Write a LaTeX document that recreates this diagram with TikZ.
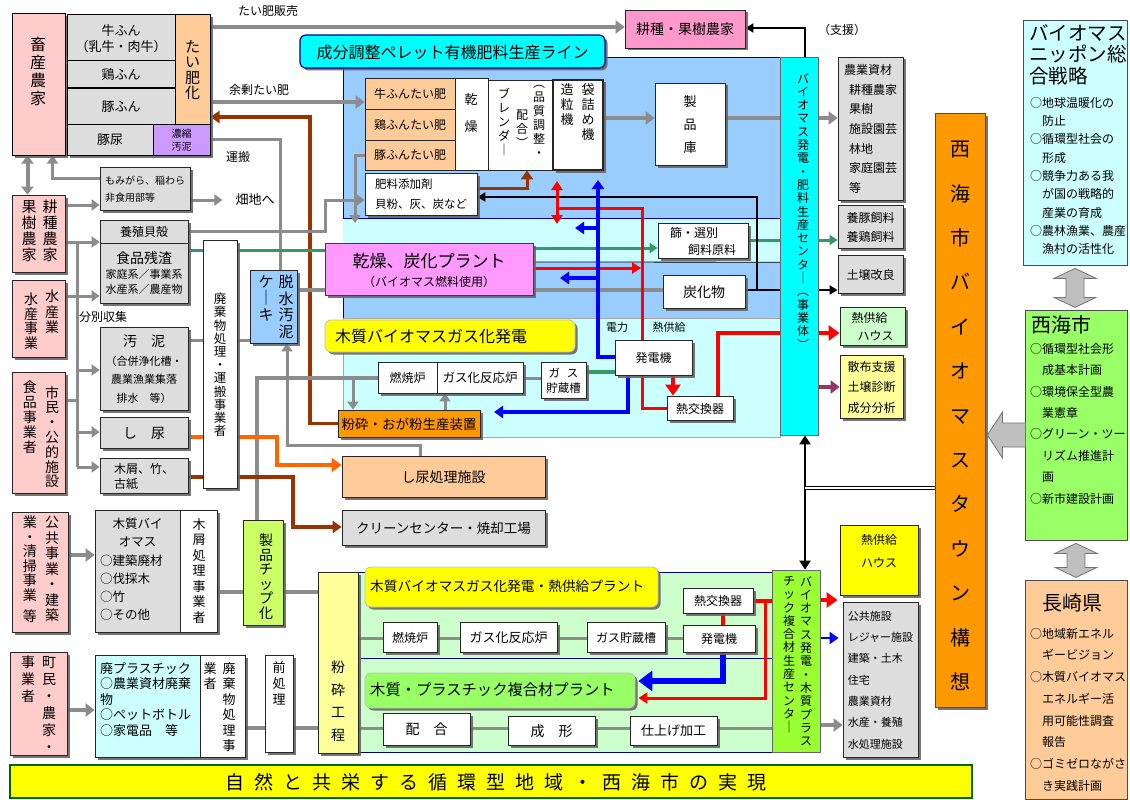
\documentclass[tikz,border=0pt]{standalone}
\usepackage{fontspec}
\setmainfont{Noto Sans CJK JP}
\usetikzlibrary{arrows.meta,fit,shadows}
\definecolor{pinkL}{HTML}{FFCCCC}
\definecolor{grayL}{HTML}{DDDDDD}
\definecolor{orangeL}{HTML}{FFCC99}
\definecolor{purpleL}{HTML}{CC99FF}
\definecolor{pinkM}{HTML}{FF99CC}
\definecolor{cyanT}{HTML}{00FFFF}
\definecolor{blueP}{HTML}{99CCFF}
\definecolor{cyanL}{HTML}{CCFFFF}
\definecolor{magP}{HTML}{FF99FF}
\definecolor{yellowT}{HTML}{FFFF00}
\definecolor{orangeD}{HTML}{FF9900}
\definecolor{greenL}{HTML}{CCFFCC}
\definecolor{yellowL}{HTML}{FFFF99}
\definecolor{greenC}{HTML}{99FF33}
\definecolor{greenM}{HTML}{99FF66}
\definecolor{chipG}{HTML}{CCFF66}
\definecolor{lineG}{HTML}{8C8C8C}
\definecolor{brownA}{HTML}{993300}
\definecolor{orangeA}{HTML}{FF6600}
\definecolor{greenA}{HTML}{339966}
\definecolor{purpleA}{HTML}{993366}
\definecolor{redA}{HTML}{FF0000}
\definecolor{blueA}{HTML}{0000FF}
\newcommand\fs[2]{\fontsize{#1}{#2}\selectfont}
% box: style, name, x1, y1, x2, y2, text options, text
\newcommand\Bx[8]{\node[#1,fit={(#3,#4) (#5,#6)}] (#2) {};
  \node[tx,#7] (#2-t) at (#2.center) {#8};}
\newcommand\Sg{\hspace{10pt}}
\pgfdeclarelayer{bg}
\pgfdeclarelayer{lines}
\pgfsetlayers{bg,lines,main}
\tikzset{
  bx/.style={draw=black!85,line width=0.8pt,inner sep=0pt},
  tx/.style={inner sep=0pt,align=center,text depth=0pt},
  shd/.style={drop shadow={shadow xshift=2.5pt,shadow yshift=-2.5pt,fill=black!60,opacity=0.9}},
  gbox/.style={bx,fill=grayL,shd},
  wbox/.style={bx,fill=white},
  wsbox/.style={bx,fill=white,shd},
  pbox/.style={bx,fill=pinkL,shd},
  vt/.style={inner sep=0pt,align=center,anchor=north},
  lt/.style={inner sep=0pt,align=left,anchor=north west},
  lbl/.style={inner sep=1pt,font=\fs{12}{14}},
  gl/.style={draw=lineG,line width=4pt},
  gt/.style={draw=lineG,line width=3pt},
  ga/.style={gl,-{Triangle[length=9pt,width=13pt]}},
  gta/.style={gt,-{Triangle[length=8pt,width=11pt]}},
  grl/.style={draw=greenA,line width=3pt},
  gra/.style={grl,-{Triangle[length=8pt,width=10pt]}},
  brl/.style={draw=brownA,line width=3.5pt},
  bra/.style={brl,-{Triangle[length=9pt,width=12pt]}},
  ora/.style={draw=orangeA,line width=4pt,-{Triangle[length=10pt,width=14pt]}},
  rdl/.style={draw=redA,line width=3pt},
  rda/.style={rdl,-{Triangle[length=9pt,width=11pt]}},
  rdA/.style={draw=redA,line width=4.5pt,-{Triangle[length=11pt,width=15pt]}},
  bll/.style={draw=blueA,line width=3.5pt},
  bla/.style={bll,-{Triangle[length=9pt,width=12pt]}},
  blA/.style={draw=blueA,line width=6pt,-{Triangle[length=14pt,width=20pt]}},
  bkl/.style={draw=black,line width=2.5pt},
  bka/.style={bkl,-{Triangle[length=8pt,width=9pt]}},
  pua/.style={draw=purpleA,line width=4pt,-{Triangle[length=9pt,width=13pt]}},
  hollow/.style={fill=black!25,draw=black!55,line width=0.8pt},
}
\begin{document}
\begin{tikzpicture}[x=1pt,y=-1pt,every node/.style={font=\fs{12}{14}}]
\useasboundingbox (0,0) rectangle (1130,800);

% ---------- panels
\begin{pgfonlayer}{bg}
\fill[white] (0,0) rectangle (1130,800);
\node[fill=blueP,draw=blue!60!black,line width=0.6pt,inner sep=0pt,fit={(343,57) (780,318)}] (pnlPellet) {};
\node[fill=cyanL,inner sep=0pt,fit={(343,219) (780,262)}] (pnlDry) {};
\draw[blue!70!black,line width=0.8pt] (pnlDry.north west) -- (pnlDry.north east);
\draw[black,line width=0.8pt] (533,262) -- (pnlDry.south east);
\node[fill=cyanL,draw=black!35,line width=0.6pt,inner sep=0pt,fit={(343,318) (780,437)}] (pnlGas) {};
\node[fill=greenL,draw=blue!50!black,line width=0.6pt,inner sep=0pt,fit={(358,572) (772,658)}] (pnlGas2) {};
\node[fill=greenL,draw=blue!50!black,line width=0.6pt,inner sep=0pt,fit={(358,658) (772,752)}] (pnlComp) {};
\end{pgfonlayer}

% ---------- left top group
\Bx{pbox,draw=black,line width=1pt}{chikusan}{12}{14}{65}{155}{}{}
\node[vt,font=\fs{16}{18}] (chikusanT) at (38,37) {畜\\産\\農\\家};
\Bx{gbox,draw=black,line width=1pt}{gyu}{67}{15}{175}{61}{font=\fs{13}{16.5}}{牛ふん\\（乳牛・肉牛）}
\Bx{gbox,draw=black,line width=1pt}{tori}{67}{61}{175}{88}{font=\fs{13}{16}}{鶏ふん}
\Bx{gbox,draw=black,line width=1pt}{buta}{67}{88}{175}{124}{font=\fs{13}{16}}{豚ふん}
\Bx{bx,draw=black,line width=1pt,fill=orangeL,shd}{taihika}{175}{15}{210}{124}{font=\fs{15}{15.5}}{た\\い\\肥\\化}
\Bx{gbox,draw=black,line width=1pt}{butanyo}{67}{124}{153}{155}{font=\fs{13}{16}}{豚尿}
\Bx{bx,draw=black,line width=1pt,fill=purpleL,shd}{noushuku}{153}{124}{210}{155}{font=\fs{10}{13}}{濃縮\\汚泥}

\Bx{bx,fill=pinkM,shd}{kouse}{625}{10}{745}{48}{font=\fs{14}{16}}{耕種・果樹農家}

\Bx{gbox}{momi}{100}{167}{190}{210}{font=\fs{10}{17},align=left}{もみがら、稲わら\\非食用部等}

\Bx{pbox}{kouju}{12}{195}{65}{272}{}{}
\node[vt,font=\fs{15}{16}] (koujuR) at (50,200) {耕\\種\\農\\家};
\node[vt,font=\fs{15}{16}] (koujuL) at (29,200) {果\\樹\\農\\家};

\Bx{pbox}{suisan}{12}{280}{65}{357}{}{}
\node[vt,font=\fs{14}{15.5}] (suisanR) at (52,290) {水\\産\\業};
\node[vt,font=\fs{14}{14.5}] (suisanL) at (31,293) {水\\産\\事\\業};

\Bx{pbox}{shimin}{12}{372}{65}{493}{}{}
\node[vt,font=\fs{14}{14.8}] (shiminR) at (52,386) {市\\民\\・\\公\\的\\施\\設};
\node[vt,font=\fs{14}{15}] (shiminL) at (30,381) {食\\品\\事\\業\\者};

\Bx{gbox}{yoshoku}{100}{220}{188}{243}{font=\fs{12}{14}}{養殖貝殻}
\Bx{gbox}{shokuhin}{100}{243}{188}{303}{font=\fs{11}{15}}{{\fs{14}{17}食品残渣}\\家庭系／事業系\\水産系／農産物}
\Bx{gbox}{odei}{100}{327}{188}{410}{font=\fs{11}{18.5}}{{\fs{14}{17}汚　泥}\\（合併浄化槽・\\農業漁業集落\\排水　等）}
\Bx{gbox}{shinyo}{100}{417}{188}{448}{font=\fs{14}{16}}{し　尿}
\Bx{gbox}{mokuzu}{100}{458}{188}{493}{font=\fs{12}{15},align=left}{木屑、竹、\\古紙}

\Bx{wsbox}{haiki1}{203}{240}{237}{488}{}{}
\node[vt,font=\fs{12.5}{13.2}] (haiki1T) at (220,293) {廃\\棄\\物\\処\\理\\・\\運\\搬\\事\\業\\者};

\Bx{bx,fill=blueP,shd}{dassui}{250}{270}{297}{343}{}{}
\node[vt,font=\fs{15}{16.5}] (dassuiR) at (286,275) {脱\\水\\汚\\泥};
\node[vt,font=\fs{15}{16.5}] (dassuiL) at (266,275) {ケ\\｜\\キ};

\node[lbl] (lblHanbai) at (268,11) {たい肥販売};
\node[lbl] (lblYojo) at (259,90) {余剰たい肥};
\node[lbl] (lblUnpan) at (238,157) {運搬};
\node[lbl,font=\fs{13}{15}] (lblHatake) at (255,200) {畑地へ};
\node[lbl] (lblBunbetsu) at (103,317) {分別収集};

% ---------- pellet line
\Bx{bx,fill=cyanT,rounded corners=6pt,draw=blue!60!black,line width=1.2pt,shd}{title1}{300}{35}{605}{68}{font=\fs{16}{18}}{成分調整ペレット有機肥料生産ライン}
\Bx{bx,fill=orangeL}{gyut}{365}{78}{455}{109}{font=\fs{12}{14}}{牛ふんたい肥}
\Bx{bx,fill=orangeL}{torit}{365}{109}{455}{140}{font=\fs{12}{14}}{鶏ふんたい肥}
\Bx{bx,fill=orangeL}{butat}{365}{140}{455}{170}{font=\fs{12}{14}}{豚ふんたい肥}
\Bx{wbox}{kansou}{455}{78}{488}{170}{}{}
\node[vt,font=\fs{13}{27}] (kansouT) at (471,93) {乾\\燥};
\Bx{wbox}{blender}{488}{80}{553}{170}{}{}
\node[vt,font=\fs{12}{14}] (blenderR) at (539,85) {︵\\品\\質\\調\\整\\・};
\node[vt,font=\fs{12}{14}] (blenderM) at (522,110) {配\\合\\︶};
\node[vt,font=\fs{12}{14}] (blenderL) at (504,88) {ブ\\レ\\ン\\ダ\\｜};
\Bx{wbox,line width=1.6pt,shd}{zouryu}{553}{80}{603}{170}{}{}
\node[vt,font=\fs{13}{15}] (zouryuR) at (588,83) {袋\\詰\\め\\機};
\node[vt,font=\fs{13}{15}] (zouryuL) at (567,83) {造\\粒\\機};
\Bx{wsbox}{seihin}{655}{83}{725}{165}{font=\fs{13}{23}}{製\\品\\庫}
\Bx{wsbox}{hiryou}{365}{173}{477}{215}{font=\fs{11.5}{20},align=left}{肥料添加剤\\貝粉、灰、炭など}

\Bx{bx,fill=magP,draw=red!80!black,line width=1pt,shd}{plant}{325}{243}{533}{295}{}{}
\node[font=\fs{17}{20},inner sep=0pt] (plantT1) at (429,261) {乾燥、炭化プラント};
\node[font=\fs{12}{14},inner sep=0pt] (plantT2) at (429,282) {（バイオマス燃料使用）};
\Bx{wsbox}{furui}{658}{223}{748}{258}{font=\fs{12}{17},align=left}{篩・選別\\\hspace*{1.5em}飼料原料}
\Bx{wsbox}{tanka}{663}{275}{745}{308}{font=\fs{14}{16}}{炭化物}

% ---------- gasification
\Bx{bx,fill=yellowT,rounded corners=6pt,draw=black!25,shd}{title2}{325}{320}{575}{352}{}{}
\node[anchor=west,inner sep=0pt,font=\fs{16}{18}] (title2T) at (335,336) {木質バイオマスガス化発電};
\Bx{bx,fill=orangeD,shd}{funsai}{338}{410}{480}{437}{font=\fs{13.5}{16}}{粉砕・おが粉生産装置}
\Bx{wsbox}{nenshou}{378}{362}{437}{393}{font=\fs{12}{14}}{燃焼炉}
\Bx{wsbox}{gaska}{437}{362}{523}{393}{font=\fs{12.5}{14}}{ガス化反応炉}
\Bx{wsbox}{gasch}{541}{362}{586}{398}{font=\fs{11.5}{15}}{ガ\hspace{0.6em}ス\\貯蔵槽}
\Bx{wsbox}{hatsuden}{615}{340}{692}{375}{font=\fs{12}{14}}{発電機}
\Bx{wsbox}{netsu}{667}{396}{733}{420}{font=\fs{12}{14}}{熱交換器}
\node[lbl,font=\fs{11}{13}] (lblDenryoku) at (617,327) {電力};
\node[lbl,font=\fs{11}{13}] (lblNetsu) at (669,327) {熱供給};

% ---------- center column 1
\Bx{bx,fill=cyanT,draw=black!60}{center1}{780}{57}{818}{435}{}{}
\node[vt,font=\fs{12}{13.3}] (center1T) at (803,73) {バ\\イ\\オ\\マ\\ス\\発\\電\\・\\肥\\料\\生\\産\\セ\\ン\\タ\\｜\\︵\\事\\業\\体\\︶};
\node[lbl] (lblShien) at (842,30) {（支援）};

% ---------- right outputs
\Bx{gbox}{noug}{838}{57}{903}{200}{font=\fs{12}{19.7},align=left}{農業資材\\\hspace*{5pt}耕種農家\\\hspace*{5pt}果樹\\\hspace*{5pt}施設園芸\\\hspace*{5pt}林地\\\hspace*{5pt}家庭園芸\\\hspace*{5pt}等}
\Bx{gbox}{shiryo}{838}{205}{903}{248}{font=\fs{12}{19}}{養豚飼料\\養鶏飼料}
\Bx{gbox}{dojou}{838}{255}{903}{293}{font=\fs{12}{14}}{土壌改良}
\Bx{bx,fill=greenL,shd}{netsuH1}{840}{307}{905}{345}{font=\fs{12}{18},align=left}{熱供給\\\hspace*{0.5em}ハウス}
\Bx{bx,fill=yellowL,shd}{sanpu}{840}{355}{903}{418}{font=\fs{12}{20.5}}{散布支援\\土壌診断\\成分分析}

\Bx{bx,fill=orangeD,shd,draw=black!70}{saikai}{935}{113}{985}{707}{}{}
\node[vt,font=\fs{20}{44.4}] (saikaiT) at (960,141) {西\\海\\市\\バ\\イ\\オ\\マ\\ス\\タ\\ウ\\ン\\構\\想};

\Bx{bx,fill=yellowT,shd}{netsuH2}{840}{525}{918}{595}{}{}
\node[vt,font=\fs{12}{23}] (netsuH2T) at (879,534) {熱供給\\ハウス};
\Bx{bx,fill=greenC,draw=black!60}{center2}{772}{570}{820}{752}{}{}
\node[vt,font=\fs{12}{13.3}] (center2R) at (806,576) {バ\\イ\\オ\\マ\\ス\\発\\電\\・\\木\\質\\プ\\ラ\\ス};
\node[vt,font=\fs{12}{13.3}] (center2L) at (789,576) {チ\\ッ\\ク\\複\\合\\材\\生\\産\\セ\\ン\\タ\\｜};
\Bx{gbox}{kokyo}{843}{602}{918}{757}{font=\fs{11}{21.3},align=left}{公共施設\\レジャー施設\\建築・土木\\住宅\\農業資材\\水産・養殖\\水処理施設}

% ---------- far right
\Bx{bx,fill=cyanL,draw=black!70}{nippon}{1023}{20}{1127}{265}{}{}
\node[lt,font=\fs{19.5}{21.5}] (nipponT) at (1029,24) {バイオマス\\ニッポン総\\合戦略};
\node[lt,font=\fs{12}{18.3}] (nipponL) at (1030,97) {○地球温暖化の\\\hspace*{1em}防止\\○循環型社会の\\\hspace*{1em}形成\\○競争力ある我\\\hspace*{1em}が国の戦略的\\\hspace*{1em}産業の育成\\○農林漁業、農産\\\hspace*{1em}漁村の活性化};

\Bx{bx,fill=greenM,draw=black!70}{saikaishi}{1025}{310}{1127}{540}{}{}
\node[lt,font=\fs{20}{22}] (saikaishiT) at (1031,315) {西海市};
\node[lt,font=\fs{12}{21.4}] (saikaishiL) at (1030,343) {○循環型社会形\\\hspace*{1em}成基本計画\\○環境保全型農\\\hspace*{1em}業憲章\\○グリーン・ツー\\\hspace*{1em}リズム推進計\\\hspace*{1em}画\\○新市建設計画};

\Bx{bx,fill=orangeL,draw=black!70}{nagasaki}{1025}{580}{1127}{799}{}{}
\node[lt,font=\fs{20}{22}] (nagasakiT) at (1042,594) {長崎県};
\node[lt,font=\fs{12}{21.7}] (nagasakiL) at (1030,628) {○地域新エネル\\\hspace*{1em}ギービジョン\\○木質バイオマス\\\hspace*{1em}エネルギー活\\\hspace*{1em}用可能性調査\\\hspace*{1em}報告\\○ゴミゼロながさ\\\hspace*{1em}き実践計画};

% ---------- lower left
\Bx{bx,fill=orangeL,shd}{shinyoS}{342}{456}{545}{497}{font=\fs{14}{16}}{し尿処理施設}
\Bx{gbox}{clean}{342}{510}{545}{545}{font=\fs{13.5}{16}}{クリーンセンター・焼却工場}

\Bx{pbox}{kokyoJ}{12}{512}{68}{632}{}{}
\node[vt,font=\fs{14}{15.5}] (kokyoJR) at (52,516) {公\\共\\事\\業\\・\\建\\築};
\node[vt,font=\fs{14}{14.5}] (kokyoJL) at (30,516) {業\\・\\清\\掃\\事\\業\\[7pt]等};
\Bx{gbox}{mokushitsu}{95}{510}{180}{632}{}{}
\node[lt,font=\fs{12.5}{18.2}] (mokushitsuT) at (100,518) {\hspace*{1em}木質バイ\\\hspace*{1.5em}オマス\\○建築廃材\\○伐採木\\○竹\\○その他};
\Bx{wsbox}{mokuzuS}{180}{510}{217}{632}{}{}
\node[vt,font=\fs{13}{15.5}] (mokuzuST) at (199,518) {木\\屑\\処\\理\\事\\業\\者};
\Bx{bx,fill=chipG,shd}{chip}{243}{520}{283}{625}{}{}
\node[vt,font=\fs{14}{14.5}] (chipT) at (266,534) {製\\品\\チ\\ッ\\プ\\化};
\Bx{bx,fill=yellowL,shd}{funsaiK}{318}{572}{358}{753}{}{}
\node[vt,font=\fs{14}{22.5}] (funsaiKT) at (338,661) {粉\\砕\\工\\程};

\Bx{bx,fill=yellowT,rounded corners=6pt,draw=black!25,shd}{title3}{365}{567}{658}{607}{}{}
\node[anchor=west,inner sep=0pt,font=\fs{13.7}{16}] (title3T) at (370,586) {木質バイオマスガス化発電・熱供給プラント};
\Bx{wsbox}{nen2}{383}{622}{437}{652}{font=\fs{12}{14}}{燃焼炉}
\Bx{wsbox}{gas2}{460}{622}{557}{652}{font=\fs{13}{14}}{ガス化反応炉}
\Bx{wsbox}{choz2}{587}{622}{665}{652}{font=\fs{12}{14}}{ガス貯蔵槽}
\Bx{wsbox}{netsu2}{683}{588}{753}{613}{font=\fs{12}{14}}{熱交換器}
\Bx{wsbox}{hatsu2}{683}{625}{755}{652}{font=\fs{12}{14}}{発電機}
\Bx{bx,fill=greenM,rounded corners=6pt,draw=black!25,shd}{title4}{365}{673}{635}{708}{}{}
\node[anchor=west,inner sep=0pt,font=\fs{15.3}{17}] (title4T) at (370,690) {木質・プラスチック複合材プラント};
\Bx{wsbox}{haigo}{383}{713}{470}{745}{font=\fs{14}{16}}{配　合}
\Bx{wsbox}{seikei}{508}{716}{595}{745}{font=\fs{14}{16}}{成　形}
\Bx{wsbox}{shiage}{630}{716}{717}{745}{font=\fs{13}{16}}{仕上げ加工}

\Bx{pbox}{machi}{10}{652}{67}{755}{}{}
\node[vt,font=\fs{14}{17}] (machiR) at (49,656) {町\\民\\・\\農\\家\\・};
\node[vt,font=\fs{14}{17}] (machiL) at (28,656) {事\\業\\者};
\Bx{bx,fill=cyanL,shd}{haipura}{95}{655}{200}{757}{}{}
\node[lt,font=\fs{13}{15.5}] (haipuraT) at (100,662) {廃プラスチック\\○農業資材廃棄\\物\\○ペットボトル\\○家電品\hspace{1em}等};
\Bx{wsbox}{haikiS2}{200}{655}{245}{757}{}{}
\node[vt,font=\fs{13}{15.5}] (haikiS2R) at (229,662) {廃\\棄\\物\\処\\理\\事};
\node[vt,font=\fs{13}{15.5}] (haikiS2L) at (210,662) {業\\者};
\Bx{wsbox}{maeshori}{265}{655}{293}{752}{}{}
\node[vt,font=\fs{13}{16}] (maeshoriT) at (279,661) {前\\処\\理};

\Bx{bx,fill=yellowT,draw=black!60!green,line width=2pt}{banner}{10}{765}{972}{798}{}{}
\node[font=\fs{19}{22},inner sep=0pt] (bannerT) at (496,782) {自\Sg 然\Sg と\Sg 共\Sg 栄\Sg す\Sg る\Sg 循\Sg 環\Sg 型\Sg 地\Sg 域\Sg ・\Sg 西\Sg 海\Sg 市\Sg の\Sg 実\Sg 現};

% ---------- hollow arrows on the right
\filldraw[hollow] (nippon.south) ++(0,3) -- ++(21,10) -- ++(-12,0) -- ++(0,19) -- ++(12,0) -- ++(-21,10) -- ++(-21,-10) -- ++(12,0) -- ++(0,-19) -- ++(-12,0) -- cycle;
\filldraw[hollow] (saikaishi.south) ++(0,3) -- ++(21,10) -- ++(-12,0) -- ++(0,14) -- ++(12,0) -- ++(-21,10) -- ++(-21,-10) -- ++(12,0) -- ++(0,-14) -- ++(-12,0) -- cycle;
\filldraw[hollow] (saikai.east |- 0,435) ++(2,0) -- ++(15,-23) -- ++(0,11) -- ++(23,0) -- ++(0,24) -- ++(-23,0) -- ++(0,11) -- cycle;

% ---------- connectors
\begin{pgfonlayer}{lines}
\draw[ga] (taihika.east |- 0,27) -- (kouse.west |- 0,27);
\draw[ga] (taihika.east |- 0,102) -- (gyut.west |- 0,102);
\draw[bra] (funsai.west) -- (310,423.5) -- (310,117) -- (taihika.east |- 0,117);
\draw[gt] (noushuku.east) -| ([xshift=6.5pt]dassui.north);
\draw[gta] (momi.west |- 0,178) -| ([xshift=14pt]chikusan.south);
\draw[gl,{Triangle[length=8pt,width=12pt]}-{Triangle[length=8pt,width=12pt]}] ([xshift=-11pt]chikusan.south) -- ([xshift=-11pt]kouju.north);
\draw[gta] (kouju.east |- 0,205) -- (momi.west |- 0,205);
\draw[gta] (momi.east |- 0,200) -- ++(32,0);
\coordinate (busT) at (77,242);
\coordinate (busB) at (77,467);
\draw[gta] (kouju.east |- busT) -- (yoshoku.west |- busT);
\draw[gt] (busT) -- (busB);
\draw[gta] (suisan.east |- 0,296) -- (shokuhin.west |- 0,296);
\draw[gt] (shimin.east |- 0,400) -- (busT |- 0,400);
\draw[gta] (busT |- 0,370) -- (odei.west |- 0,370);
\draw[gta] (busT |- 0,432) -- (shinyo.west |- 0,432);
\draw[gta] (busB) -- (mokuzu.west |- busB);
\draw[gta] (yoshoku.east) -- (325,231.5) -- (325,200) -- (hiryou.west |- 0,200);
\draw[gta] (butat.west) -| (355,223);
\draw[grl] (shokuhin.east |- 0,250) -- (plant.west |- 0,250);
\draw[gra] (plant.east |- 0,248) -- (furui.west |- 0,248);
\draw[grl] (furui.east |- 0,240) -- (center1.west |- 0,240);
\draw[gra] (center1.east |- 0,240) -- (shiryo.west |- 0,240);
\draw[gt] (odei.east |- 0,340) -- (haiki1.west |- 0,340);
\draw[gt] (haiki1.east |- 0,340) -- (dassui.west |- 0,340);
\draw[gl] (dassui.east |- 0,290) -- (plant.west |- 0,290);
\draw[gl] (plant.east |- 0,290) -- (tanka.west |- 0,290);
\draw[bkl] (tanka.east |- 0,290) -- (center1.west |- 0,290);
\draw[bka] (center1.east |- 0,290) -- (dojou.west |- 0,290);
\draw[bka] (757,290) |- (hiryou.east |- 0,197);
\draw[bka,line width=2pt] (center1.north -| 805,0) |- (kouse.east |- 0,28);
\draw[ga] (zouryu.east |- 0,118) -- (seihin.west |- 0,118);
\draw[gl] (seihin.east |- 0,118) -- (center1.west |- 0,118);
\draw[ga] (center1.east |- 0,118) -- (noug.west |- 0,118);
\draw[bra,line width=3pt] (hiryou.east |- 0,188) -| ([xshift=6.5pt]blender.south);
% red / blue upper
\draw[rdA] (hatsuden.south -| 673,0) -- (netsu.north -| 673,0);
\draw[rdl] (netsu.west) -| (642,208) -- (557,208);
\draw[rda] (557,208) -- (557,181);
\draw[rda] (557,208) -- (557,224);
\draw[rda] (plant.east |- 0,268) -- (641,268);
\draw[rdl,line width=4pt] ([xshift=-15pt]netsu.north east) |- (center1.west |- 0,333);
\draw[rdA] (center1.east |- 0,333) -- (netsuH1.west |- 0,333);
\draw[bla] (hatsuden.west |- 0,357) -| (598,180);
\draw[bla] (598,228) -- (575,228);
\draw[bla] (598,278) -- (560,278);
\draw[bla] (hatsuden.south -| 628,0) |- (494,412);
\draw[grl,line width=4pt] (gasch.east |- 0,372) -- (hatsuden.west |- 0,372);
\draw[gt] (gaska.east |- 0,378) -- (gasch.west |- 0,378);
\draw[gl] ([xshift=-6pt]chip.north) |- (nenshou.west |- 0,377.5);
\draw[gta] (353,377.5) -- (funsai.north -| 353,0);
\draw[gta] (funsai.north -| 445,0) -- (gaska.south -| 445,0);
\draw[gta] ([xshift=-23.5pt]shinyoS.north) |- (287,445) -- (dassui.south -| 287,0);
\draw[ora] (shinyo.east |- 0,437) -| (277,465) -- (shinyoS.west |- 0,465);
\draw[bra] (mokuzu.east |- 0,477) -| (293,527) -- (clean.west |- 0,527);
\draw[pua] (center1.east |- 0,387) -- (sanpu.west |- 0,387);
% lower
\draw[ga] (kokyoJ.east |- 0,555) -- (mokushitsu.west |- 0,555);
\draw[gl] (mokuzuS.east |- 0,592) -- (chip.west |- 0,592);
\draw[gl] (chip.east |- 0,592) -- (funsaiK.west |- 0,592);
\draw[ga] (machi.east |- 0,710) -- (haipura.west |- 0,710);
\draw[gl] (haikiS2.east |- 0,728) -- (maeshori.west |- 0,728);
\draw[gl] (maeshori.east |- 0,728) -- (funsaiK.west |- 0,728);
\draw[gt] (funsaiK.east |- 0,638) -- (hatsu2.west |- 0,638);
\draw[gt] (funsaiK.east |- 0,728) -- (center2.west |- 0,728);
\draw[ga] (center2.east |- 0,725) -- (kokyo.west |- 0,725);
\draw[rdl,line width=4pt] (netsu2.south -| 723,0) -- (hatsu2.north -| 723,0);
\draw[rdl,line width=4pt] (netsu2.east) -- (center2.west |- netsu2.east);
\draw[rda] (765,600.5) |- ([xshift=3pt]title4.east |- 0,698);
\draw[rdA] (center2.east |- 0,600) -- ([xshift=-5pt]kokyo.west |- 0,600);
\draw[bla,line width=2pt] (center2.east |- 0,638) -- ([xshift=-4pt]kokyo.west |- 0,638);
\draw[blA] (hatsu2.south -| 723,0) |- ([xshift=3pt]title4.east |- 0,681);
\draw[bkl,{Triangle[length=9pt,width=11pt]}-{Triangle[length=9pt,width=11pt]}] (center1.south -| 805,0) -- (center2.north -| 805,0);
\draw[double distance=2.5pt,line width=0.9pt] (805,488) -- (saikai.west |- 0,488);
\end{pgfonlayer}
\end{tikzpicture}
\end{document}
